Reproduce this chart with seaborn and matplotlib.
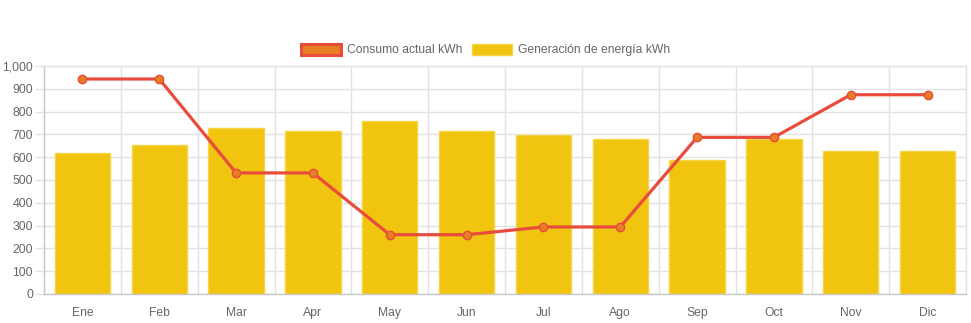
import matplotlib
matplotlib.use("Agg")
import matplotlib.pyplot as plt
import seaborn as sns
import pandas as pd
from matplotlib.patches import Patch
from matplotlib.ticker import FuncFormatter, FixedLocator

months = ["Ene", "Feb", "Mar", "Apr", "May", "Jun", "Jul", "Ago", "Sep", "Oct", "Nov", "Dic"]
generacion = [617, 653, 727, 715, 757, 713, 696, 680, 586, 681, 629, 627]
consumo = [943, 943, 531, 531, 260, 260, 294, 294, 687, 687, 874, 874]
series_names = ["Consumo actual kWh", "Generación de energía kWh"]

sns.set_theme(style="white")
plt.rcParams["font.family"] = ["Liberation Sans", "DejaVu Sans"]

df = pd.DataFrame({"mes": months, "gen": generacion, "cons": consumo})

fig = plt.figure(figsize=(9.71, 3.23), dpi=100)
ax = fig.add_axes([44/971, 29/323, (966-44)/971, (294-66)/323])

sns.barplot(data=df, x="mes", y="gen", color="#f1c40f", width=0.72,
            edgecolor="#f5d547", linewidth=1.0, saturation=1, ax=ax, zorder=2)
sns.pointplot(data=df, x="mes", y="cons", color="#e74c3c", markers="o",
              markersize=6, linewidth=2.3, ax=ax, zorder=3)
for line in ax.lines:
    line.set_markerfacecolor("#e67e22")
    line.set_markeredgecolor("#e74c3c")
    line.set_markeredgewidth(1.0)
    line.set_zorder(4)

ax.set_xlim(-0.5, 11.5)
ax.set_ylim(0, 1000)
ax.set_xlabel("")
ax.set_ylabel("")

grid_c = "#e2e2e2"
ax.yaxis.set_major_locator(FixedLocator(range(0, 1001, 100)))
ax.yaxis.set_major_formatter(FuncFormatter(lambda v, p: f"{int(v):,}"))
ax.xaxis.set_minor_locator(FixedLocator([i - 0.5 for i in range(13)]))
ax.grid(True, axis="y", which="major", color=grid_c, linewidth=1.0, zorder=0)
ax.grid(True, axis="x", which="minor", color=grid_c, linewidth=1.0, zorder=0)
ax.set_axisbelow(True)

ax.tick_params(axis="x", which="major", length=0, pad=9.5, labelsize=8.7, labelcolor="#666666")
ax.tick_params(axis="x", which="minor", length=6, width=1, color=grid_c)
ax.tick_params(axis="y", which="major", length=6.5, width=1, color=grid_c, pad=1.5,
               labelsize=8.7, labelcolor="#666666", left=True)

for side in ["top", "right"]:
    ax.spines[side].set_color(grid_c)
    ax.spines[side].set_linewidth(1.0)
for side in ["left", "bottom"]:
    ax.spines[side].set_color("#c8c8c8")
    ax.spines[side].set_linewidth(1.0)

handles = [
    Patch(facecolor="#e67e22", edgecolor="#e74c3c", linewidth=2.2, label=series_names[0]),
    Patch(facecolor="#f1c40f", edgecolor="#f5d547", linewidth=1.0, label=series_names[1]),
]
fig.legend(handles=handles, loc="center", bbox_to_anchor=(0.5, 1 - 50/323), ncol=2,
           frameon=False, fontsize=8.7, labelcolor="#666666", handlelength=3.3,
           handleheight=1.0, handletextpad=0.5, columnspacing=0.8)

fig.savefig("out.png", dpi=100)
